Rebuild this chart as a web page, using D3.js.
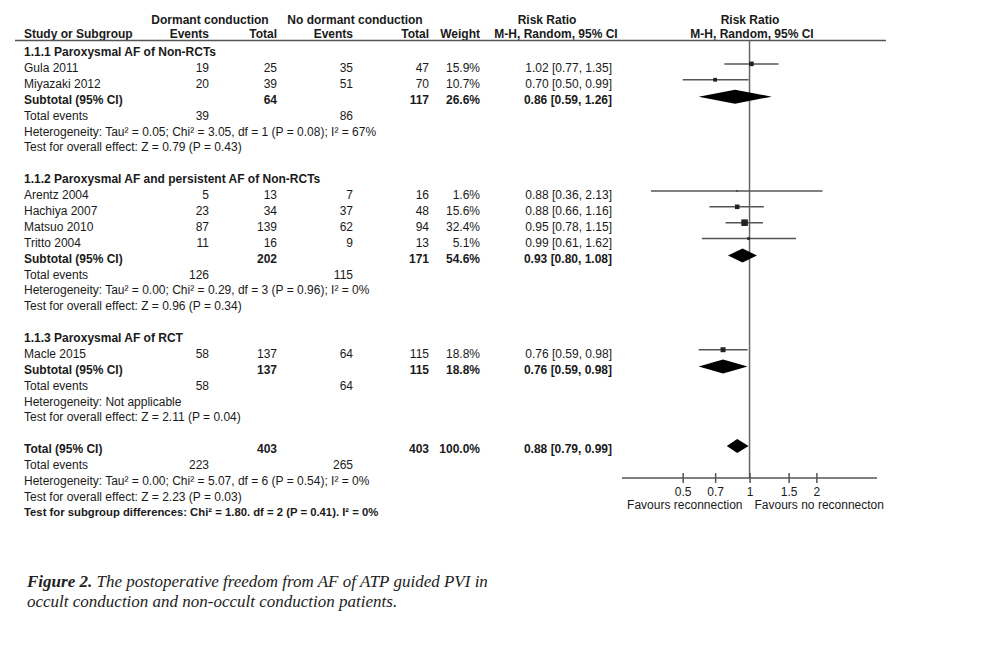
<!DOCTYPE html>
<html><head><meta charset="utf-8">
<script src="https://cdn.jsdelivr.net/npm/d3@7"></script>
<style>body{margin:0;background:#fff}svg{display:block}</style>
</head><body>
<svg id="chart" width="988" height="662"></svg>
<script>
// ---------- data ----------
const groupTitles = ["1.1.1 Paroxysmal AF of Non-RCTs", "1.1.2 Paroxysmal AF and persistent AF of Non-RCTs", "1.1.3 Paroxysmal AF of RCT"];
const studyNames = ["Gula 2011", "Miyazaki 2012", "Arentz 2004", "Hachiya 2007", "Matsuo 2010", "Tritto 2004", "Macle 2015"];
const studyGroup = [0, 0, 1, 1, 1, 1, 2];
const eventsDormant = [19, 20, 5, 23, 87, 11, 58];
const totalDormant = [25, 39, 13, 34, 139, 16, 137];
const eventsNoDormant = [35, 51, 7, 37, 62, 9, 64];
const totalNoDormant = [47, 70, 16, 48, 94, 13, 115];
const studyWeight = [15.9, 10.7, 1.6, 15.6, 32.4, 5.1, 18.8];
const studyRR = [1.02, 0.70, 0.88, 0.88, 0.95, 0.99, 0.76];
const studyLow = [0.77, 0.50, 0.36, 0.66, 0.78, 0.61, 0.59];
const studyHigh = [1.35, 0.99, 2.13, 1.16, 1.15, 1.62, 0.98];

const subTotalDormant = [64, 202, 137];
const subTotalNoDormant = [117, 171, 115];
const subWeight = [26.6, 54.6, 18.8];
const subRR = [0.86, 0.93, 0.76];
const subLow = [0.59, 0.80, 0.59];
const subHigh = [1.26, 1.08, 0.98];
const subEventsDormant = [39, 126, 58];
const subEventsNoDormant = [86, 115, 64];
const subHeterogeneity = [
  "Heterogeneity: Tau² = 0.05; Chi² = 3.05, df = 1 (P = 0.08); I² = 67%",
  "Heterogeneity: Tau² = 0.00; Chi² = 0.29, df = 3 (P = 0.96); I² = 0%",
  "Heterogeneity: Not applicable"];
const subOverall = [
  "Test for overall effect: Z = 0.79 (P = 0.43)",
  "Test for overall effect: Z = 0.96 (P = 0.34)",
  "Test for overall effect: Z = 2.11 (P = 0.04)"];

const totalLabel = "Total (95% CI)";
const totalN = [403, 403];           // dormant total, no-dormant total
const totalWeight = [100.0];
const totalRR = [0.88, 0.79, 0.99];  // estimate, low, high
const totalEvents = [223, 265];
const totalHeterogeneity = "Heterogeneity: Tau² = 0.00; Chi² = 5.07, df = 6 (P = 0.54); I² = 0%";
const totalOverall = "Test for overall effect: Z = 2.23 (P = 0.03)";
const subgroupTest = "Test for subgroup  differences: Chi² = 1.80. df = 2 (P = 0.41). I² = 0%";

const axisTicks = [0.5, 0.7, 1, 1.5, 2];
const favourLabels = ["Favours reconnection", "Favours no reconnecton"];
const captionBold = "Figure 2.";
const captionLines = [" The postoperative freedom from AF of ATP guided PVI in", "occult conduction and non-occult conduction patients."];

// ---------- layout ----------
const svg = d3.select("#chart");
const FONT = "'Liberation Sans', Arial, sans-serif";
const FS = 12;
const TXT = "#1a1a1a";
const LINE = "#555";

const col = {name: 24, evD: 209, totD: 277, evN: 353, totN: 429, w: 480, rr: 612};
const f2 = d3.format(".2f");
const pct = v => v.toFixed(1) + "%";
const ci = (e, l, h) => `${f2(e)} [${f2(l)}, ${f2(h)}]`;

// build row list
const rows = [];
groupTitles.forEach((g, gi) => {
  rows.push({type: "group", text: g});
  studyNames.forEach((s, si) => {
    if (studyGroup[si] !== gi) return;
    rows.push({type: "study", name: s, evD: eventsDormant[si], totD: totalDormant[si], evN: eventsNoDormant[si], totN: totalNoDormant[si],
      w: studyWeight[si], rr: studyRR[si], lo: studyLow[si], hi: studyHigh[si]});
  });
  rows.push({type: "sub", name: "Subtotal (95% CI)", totD: subTotalDormant[gi], totN: subTotalNoDormant[gi], w: subWeight[gi], rr: subRR[gi], lo: subLow[gi], hi: subHigh[gi]});
  rows.push({type: "events", evD: subEventsDormant[gi], evN: subEventsNoDormant[gi]});
  rows.push({type: "note", text: subHeterogeneity[gi]});
  rows.push({type: "note", text: subOverall[gi]});
  rows.push({type: "blank"});
});
rows.push({type: "sub", name: totalLabel, totD: totalN[0], totN: totalN[1], w: totalWeight[0], rr: totalRR[0], lo: totalRR[1], hi: totalRR[2]});
rows.push({type: "events", evD: totalEvents[0], evN: totalEvents[1]});
rows.push({type: "note", text: totalHeterogeneity});
rows.push({type: "note", text: totalOverall});
rows.push({type: "note", text: subgroupTest, bold: true});

const y = d3.scaleLinear().domain([0, rows.length - 1]).range([52, 512.5]);
const x = d3.scaleLog().domain([0.2665, 3.75]).range([622, 877]);

function txt(xp, yp, s, anchor, bold, size) {
  return svg.append("text").attr("x", xp).attr("y", yp).attr("dy", "0.35em")
    .attr("text-anchor", anchor || "start")
    .attr("font-family", FONT).attr("font-size", size || FS)
    .attr("font-weight", bold ? "bold" : "normal").attr("fill", TXT).text(s);
}

// headers
txt(210, 20, "Dormant conduction", "middle", true);
txt(355, 20, "No dormant conduction", "middle", true);
txt(547, 20, "Risk Ratio", "middle", true);
txt(750, 20, "Risk Ratio", "middle", true);
txt(col.name, 34, "Study or Subgroup", "start", true);
txt(col.evD, 34, "Events", "end", true);
txt(col.totD, 34, "Total", "end", true);
txt(col.evN, 34, "Events", "end", true);
txt(col.totN, 34, "Total", "end", true);
txt(col.w, 34, "Weight", "end", true);
txt(556, 34, "M-H, Random, 95% CI", "middle", true);
txt(752, 34, "M-H, Random, 95% CI", "middle", true);
svg.append("line").attr("x1", 15).attr("x2", 886).attr("y1", 40.5).attr("y2", 40.5)
  .attr("stroke", LINE).attr("stroke-width", 1.6);

// vertical null line
svg.append("line").attr("x1", x(1)).attr("x2", x(1)).attr("y1", 40.5).attr("y2", 478)
  .attr("stroke", "#666").attr("stroke-width", 1.5);

const MOFF = -4; // marker offset relative to text centre
rows.forEach((r, i) => {
  const yy = y(i);
  if (r.type === "group") txt(col.name, yy, r.text, "start", true);
  else if (r.type === "study") {
    txt(col.name, yy, r.name);
    txt(col.evD, yy, r.evD, "end");
    txt(col.totD, yy, r.totD, "end");
    txt(col.evN, yy, r.evN, "end");
    txt(col.totN, yy, r.totN, "end");
    txt(col.w, yy, pct(r.w), "end");
    txt(col.rr, yy, ci(r.rr, r.lo, r.hi), "end");
    const ym = yy + MOFF;
    svg.append("line").attr("x1", x(r.lo)).attr("x2", x(r.hi)).attr("y1", ym).attr("y2", ym)
      .attr("stroke", LINE).attr("stroke-width", 1.5);
    const s = 1.15 * Math.sqrt(r.w);
    svg.append("rect").attr("x", x(r.rr) - s / 2).attr("y", ym - s / 2).attr("width", s).attr("height", s)
      .attr("fill", "#222");
  } else if (r.type === "sub") {
    txt(col.name, yy, r.name, "start", true);
    txt(col.totD, yy, r.totD, "end", true);
    txt(col.totN, yy, r.totN, "end", true);
    txt(col.w, yy, pct(r.w), "end", true);
    txt(col.rr, yy, ci(r.rr, r.lo, r.hi), "end", true);
    const ym = yy + MOFF + 1;
    const h = 7;
    svg.append("path").attr("d", `M${x(r.lo)},${ym}L${x(r.rr)},${ym - h}L${x(r.hi)},${ym}L${x(r.rr)},${ym + h}Z`)
      .attr("fill", "#000");
  } else if (r.type === "events") {
    txt(col.name, yy, "Total events");
    txt(col.evD, yy, r.evD, "end");
    txt(col.evN, yy, r.evN, "end");
  } else if (r.type === "note") {
    txt(col.name, yy, r.text, "start", !!r.bold, r.bold ? 11.3 : FS);
  }
});

// axis
const axY = 478;
const axis = d3.axisBottom(x).tickValues(axisTicks).tickFormat(d => String(d)).tickSizeInner(5).tickSizeOuter(0).tickPadding(4);
const ag = svg.append("g").attr("transform", `translate(0,${axY})`).call(axis);
ag.select(".domain").remove();
ag.append("line").attr("x1", 622).attr("x2", 877).attr("y1", 0).attr("y2", 0).attr("stroke", LINE).attr("stroke-width", 1.5);
ag.selectAll(".tick line").attr("y1", -5).attr("y2", 5).attr("stroke", LINE).attr("stroke-width", 1.5);
ag.selectAll(".tick text").attr("font-family", FONT).attr("font-size", FS).attr("fill", TXT);
txt(x(1) - 7, 505, favourLabels[0], "end");
txt(x(1) + 5, 505, favourLabels[1], "start");

// caption
const cap = svg.append("text").attr("x", 27).attr("y", 587)
  .attr("font-family", "'Liberation Serif', 'Times New Roman', serif").attr("font-size", 17)
  .attr("font-style", "italic").attr("fill", "#222");
cap.append("tspan").attr("font-weight", "bold").text(captionBold);
cap.append("tspan").text(captionLines[0]);
svg.append("text").attr("x", 27).attr("y", 607)
  .attr("font-family", "'Liberation Serif', 'Times New Roman', serif").attr("font-size", 17)
  .attr("font-style", "italic").attr("fill", "#222").text(captionLines[1]);
</script>
</body></html>
